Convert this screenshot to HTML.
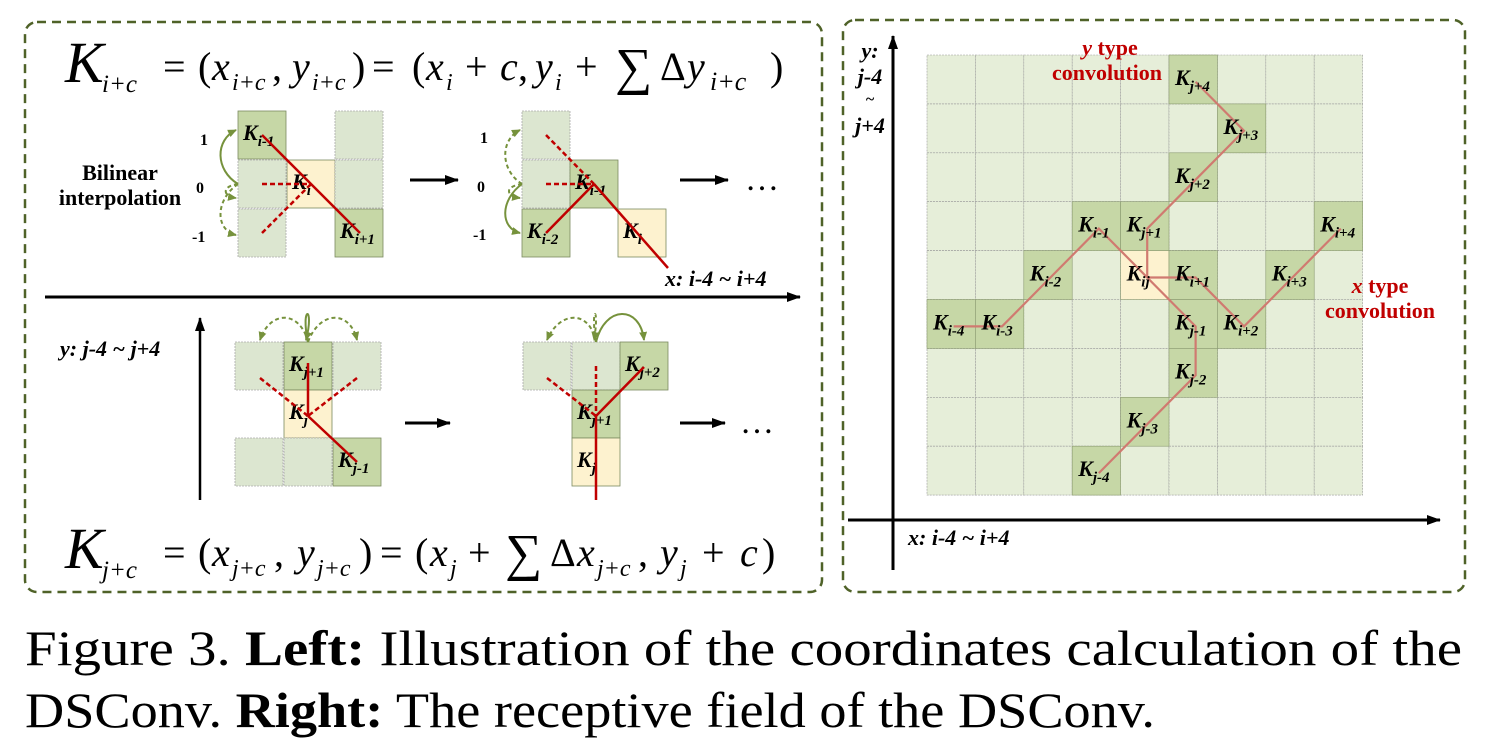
<!DOCTYPE html>
<html><head><meta charset="utf-8"><style>
body{margin:0;background:#fff}
svg{display:block}
text{font-family:"Liberation Serif",serif}
</style></head><body>
<svg id="fig" width="1486" height="748" viewBox="0 0 1486 748">
<defs>
<marker id="ah" markerUnits="userSpaceOnUse" markerWidth="14" markerHeight="10" refX="13" refY="5" orient="auto"><path d="M0,0 L14,5 L0,10 z" fill="#000"/></marker>
<marker id="gh" markerUnits="userSpaceOnUse" markerWidth="9" markerHeight="8" refX="8" refY="4" orient="auto"><path d="M0,0 L9,4 L0,8 z" fill="#76923c"/></marker>
</defs>
<rect x="25" y="22" width="797" height="570" rx="12" fill="none" stroke="#4f6228" stroke-width="2.5" stroke-dasharray="9,6"/>
<rect x="843" y="20" width="622" height="572" rx="12" fill="none" stroke="#4f6228" stroke-width="2.5" stroke-dasharray="9,6"/>

<g font-size="40">
<text x="65" y="82" font-size="58" font-style="italic">K</text>
<text x="102" y="92" font-size="25" font-style="italic">i+c</text>
<text x="163" y="80">=</text><text x="198" y="80">(</text>
<text x="212" y="80" font-style="italic">x</text><text x="232" y="90" font-size="24" font-style="italic">i+c</text><text x="272" y="80">,</text>
<text x="292" y="80" font-style="italic">y</text><text x="312" y="90" font-size="24" font-style="italic">i+c</text><text x="352" y="80">)</text>
<text x="372" y="80">=</text><text x="412" y="80">(</text>
<text x="426" y="80" font-style="italic">x</text><text x="446" y="90" font-size="24" font-style="italic">i</text>
<text x="465" y="80">+</text><text x="500" y="80" font-style="italic">c</text><text x="518" y="80">,</text>
<text x="535" y="80" font-style="italic">y</text><text x="555" y="90" font-size="24" font-style="italic">i</text>
<text x="575" y="80">+</text><text x="615" y="84" font-size="52">∑</text><text x="660" y="80">Δ</text>
<text x="687" y="80" font-style="italic">y</text><text x="710" y="90" font-size="26" font-style="italic">i+c</text><text x="770" y="80">)</text>
</g>
<g font-size="40">
<text x="65" y="568" font-size="58" font-style="italic">K</text>
<text x="102" y="578" font-size="25" font-style="italic">j+c</text>
<text x="163" y="566">=</text><text x="198" y="566">(</text>
<text x="212" y="566" font-style="italic">x</text><text x="232" y="576" font-size="24" font-style="italic">j+c</text><text x="274" y="566">,</text>
<text x="297" y="566" font-style="italic">y</text><text x="317" y="576" font-size="24" font-style="italic">j+c</text><text x="359" y="566">)</text>
<text x="380" y="566">=</text><text x="415" y="566">(</text>
<text x="430" y="566" font-style="italic">x</text><text x="450" y="576" font-size="24" font-style="italic">j</text>
<text x="468" y="566">+</text><text x="505" y="570" font-size="52">∑</text><text x="550" y="566">Δ</text>
<text x="577" y="566" font-style="italic">x</text><text x="597" y="576" font-size="24" font-style="italic">j+c</text><text x="638" y="566">,</text>
<text x="660" y="566" font-style="italic">y</text><text x="680" y="576" font-size="24" font-style="italic">j</text>
<text x="702" y="566">+</text><text x="740" y="566" font-style="italic">c</text><text x="762" y="566">)</text>
</g>

<g id="left"></g>
<g id="right"></g>

<line x1="45" y1="297" x2="800" y2="297" stroke="#000" stroke-width="3" marker-end="url(#ah)"/>
<line x1="200" y1="500" x2="200" y2="318" stroke="#000" stroke-width="2.5" marker-end="url(#ah)"/>
<text x="665" y="286" font-size="22" font-weight="bold" font-style="italic">x: i-4 ~ i+4</text>
<text x="60" y="356" font-size="22" font-weight="bold" font-style="italic">y: j-4 ~ j+4</text>
<text x="120" y="180" font-size="22" font-weight="bold" text-anchor="middle">Bilinear</text>
<text x="120" y="205" font-size="22" font-weight="bold" text-anchor="middle">interpolation</text>
<g font-size="16" font-weight="bold">
<text x="200" y="145">1</text><text x="196" y="193">0</text><text x="192" y="242">-1</text>
<text x="480" y="143">1</text><text x="477" y="192">0</text><text x="473" y="240">-1</text>
</g>
<g stroke="#000" stroke-width="3">
<line x1="410" y1="180" x2="458" y2="180" marker-end="url(#ah)"/><line x1="680" y1="180" x2="728" y2="180" marker-end="url(#ah)"/>
<line x1="405" y1="423" x2="450" y2="423" marker-end="url(#ah)"/><line x1="680" y1="423" x2="725" y2="423" marker-end="url(#ah)"/>
</g>
<text x="745" y="190" font-size="34">…</text>
<text x="740" y="433" font-size="34">…</text>

<g>
<line x1="893" y1="570" x2="893" y2="36" stroke="#000" stroke-width="3" marker-end="url(#ah)"/>
<line x1="848" y1="520" x2="1440" y2="520" stroke="#000" stroke-width="3" marker-end="url(#ah)"/>
<text x="908" y="545" font-size="22" font-weight="bold" font-style="italic">x: i-4 ~ i+4</text>
<g font-size="22" font-weight="bold" font-style="italic" text-anchor="middle">
<text x="870" y="58">y:</text><text x="870" y="84">j-4</text><text x="870" y="104" font-style="normal" font-size="16">~</text><text x="870" y="133">j+4</text></g>
<g fill="#c00000" font-size="22" font-weight="bold" text-anchor="middle">
<text x="1110" y="55"><tspan font-style="italic">y</tspan> type</text><text x="1107" y="80">convolution</text>
<text x="1380" y="293"><tspan font-style="italic">x</tspan> type</text><text x="1380" y="318">convolution</text></g>
</g>

<g font-size="50">
<text x="25" y="665" textLength="1437" lengthAdjust="spacingAndGlyphs">Figure 3.  <tspan font-weight="bold">Left:</tspan> Illustration of the coordinates calculation of the</text>
<text x="25" y="727" textLength="1130" lengthAdjust="spacingAndGlyphs">DSConv. <tspan font-weight="bold">Right:</tspan> The receptive field of the DSConv.</text>
</g>
</svg>
<script>
// right grid data: highlighted cells (col,row), label text, subscript
const cellCols = [5,6,5,3,4,8,2,4,5,7,0,1,5,6,5,4,3];
const cellRows = [0,1,2,3,3,3,4,4,4,4,5,5,5,5,6,7,8];
const cellSubs = ["j+4","j+3","j+2","i-1","j+1","i+4","i-2","ij","i+1","i+3","i-4","i-3","j-1","i+2","j-2","j-3","j-4"];
const xPath = ["i-4","i-3","i-2","i-1","ij","i+1","i+2","i+3","i+4"];
const yPath = ["j-4","j-3","j-2","j-1","ij","j+1","j+2","j+3","j+4"];
const NS="http://www.w3.org/2000/svg";
function mk(t,a,p){const e=document.createElementNS(NS,t);for(const k in a)e.setAttribute(k,a[k]);p.appendChild(e);return e;}
const R=document.getElementById('right');
const gx0=927,gy0=55,cw=48.4,ch=48.9,N=9;
const X=c=>gx0+c*cw, Y=r=>gy0+r*ch;
for(let r=0;r<N;r++)for(let c=0;c<N;c++){
  const e=mk('rect',{x:X(c),y:Y(r),width:cw,height:ch,fill:'#e6eed9',stroke:'#9a9a9a','stroke-width':0.6,'stroke-dasharray':'2,1'},R);
  
  
}
const pos={};
cellSubs.forEach((s,i)=>{
  const c=cellCols[i],r=cellRows[i];
  const e=mk('rect',{x:X(c),y:Y(r),width:cw,height:ch,fill:s==='ij'?'#fdf2cf':'#c6d7a6',stroke:'#8a9a70','stroke-width':0.6},R);
  
  
  pos[s]=[X(c)+cw*0.55,Y(r)+ch*0.55];
});
[xPath,yPath].forEach((p,k)=>{
  const e=mk('polyline',{points:p.map(s=>pos[s].join(',')).join(' '),fill:'none',stroke:'#d07a70','stroke-width':2.2},R);
  
  
});
cellSubs.forEach((s,i)=>{
  const t=mk('text',{x:X(cellCols[i])+6,y:Y(cellRows[i])+30,'font-size':22,'font-weight':'bold','font-style':'italic'},R);
  
  
  t.textContent='K';
  const sp=mk('tspan',{'font-size':15,dy:6},t);sp.textContent=s;
});
// left diagrams
const L=document.getElementById('left');
const leftCells=[
 [238,111,'d','i-1'],[238,160,'l',''],[238,209,'l',''],[287,160,'y','i'],[335,111,'l',''],[335,160,'l',''],[335,209,'d','i+1'],
 [522,111,'l',''],[522,160,'l',''],[522,209,'d','i-2'],[570,160,'d','i-1'],[618,209,'y','i'],
 [235,342,'l',''],[284,342,'d','j+1'],[333,342,'l',''],[284,390,'y','j'],[235,438,'l',''],[284,438,'l',''],[333,438,'d','j-1'],
 [523,342,'l',''],[572,342,'l',''],[620,342,'d','j+2'],[572,390,'d','j+1'],[572,438,'y','j']];
const fills={d:'#c6d7a6',l:'#dce6d0',y:'#fdf2cf'};
leftCells.forEach(c=>{
  const e=mk('rect',{x:c[0],y:c[1],width:48,height:48,fill:fills[c[2]],stroke:c[2]==='l'?'#aaa':'#7a8a60','stroke-width':0.8,'stroke-dasharray':c[2]==='l'?'2,1':'none'},L);
  
  
  if(c[3]){const t=mk('text',{x:c[0]+5,y:c[1]+29,'font-size':22,'font-weight':'bold','font-style':'italic'},L);
    t.textContent='K';const sp=mk('tspan',{'font-size':15,dy:6},t);sp.textContent=c[3];}
});
const red='#c00000';
[[262,135,360,233,0],[262,184,311,184,1],[262,233,311,184,1],
 [546,233,594,184,0],[594,184,668,268,0],[546,135,594,184,1],[546,184,594,184,1],
 [308,363,308,416,0],[308,416,357,462,0],[260,378,308,416,1],[357,378,308,416,1],
 [596,500,596,416,0],[596,416,644,367,0],[596,366,596,416,1],[547,378,596,416,1]].forEach(l=>{
  const e=mk('line',{x1:l[0],y1:l[1],x2:l[2],y2:l[3],stroke:red,'stroke-width':2.5,'stroke-dasharray':l[4]?'5,3':'none'},L);
  
  
});
const g='#76923c';
[['M238,184 C215,170 215,140 236,130',0],['M238,184 C222,186 222,196 236,198',1],['M238,184 C215,200 215,230 236,235',1],
 ['M522,184 C500,170 500,140 520,130',1],['M522,184 C505,186 505,196 520,198',1],['M522,184 C500,200 500,228 520,233',0],
 ['M308,342 C300,310 270,310 260,340',1],['M308,342 C300,305 315,305 306,340',0],['M308,342 C320,310 350,310 357,340',1],
 ['M596,342 C590,310 560,310 547,340',1],['M596,342 C590,305 600,305 594,340',1],['M596,342 C605,305 640,305 644,340',0]].forEach(p=>{
  const e=mk('path',{d:p[0],fill:'none',stroke:g,'stroke-width':2,'stroke-dasharray':p[1]?'4,3':'none','marker-end':'url(#gh)'},L);
  
  
});
</script>
</body></html>
